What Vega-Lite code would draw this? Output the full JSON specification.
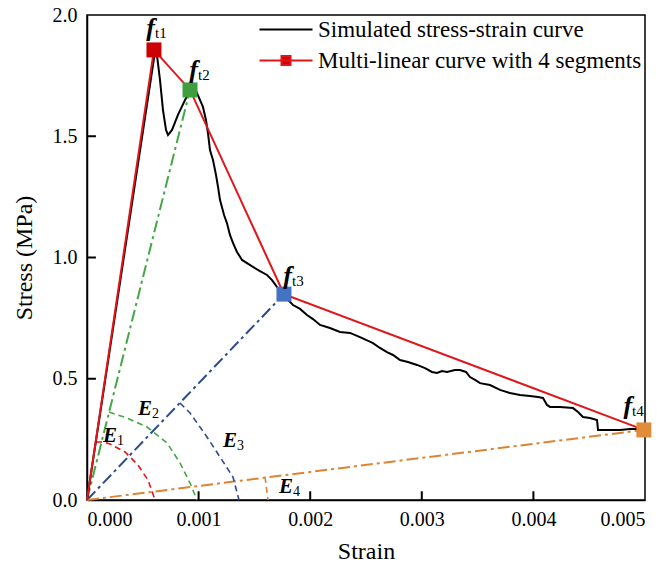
{
  "$schema": "https://vega.github.io/schema/vega-lite/v6.json",
  "width": 558,
  "height": 485,
  "autosize": {"type": "none"},
  "padding": {"left": 87, "top": 15, "right": 21, "bottom": 73},
  "background": "white",
  "config": {
    "view": {"stroke": "black", "strokeWidth": 1.5},
    "font": "Liberation Serif",
    "axis": {
      "domainColor": "black", "domainWidth": 1.5,
      "labelFont": "Liberation Serif", "labelFontSize": 20, "labelColor": "black",
      "titleFont": "Liberation Serif", "titleFontSize": 24, "titleFontWeight": "normal", "titleColor": "black",
      "grid": false, "ticks": false
    }
  },
  "datasets": {
    "sim": [
      {"strain": 0, "stress": 0},
      {"strain": 0.000609, "stress": 1.847},
      {"strain": 0.000627, "stress": 1.835},
      {"strain": 0.000654, "stress": 1.732},
      {"strain": 0.000681, "stress": 1.608},
      {"strain": 0.000708, "stress": 1.526},
      {"strain": 0.000726, "stress": 1.505},
      {"strain": 0.000762, "stress": 1.526},
      {"strain": 0.000815, "stress": 1.588},
      {"strain": 0.000878, "stress": 1.649},
      {"strain": 0.000923, "stress": 1.691},
      {"strain": 0.000968, "stress": 1.699},
      {"strain": 0.000986, "stress": 1.678},
      {"strain": 0.001039, "stress": 1.621},
      {"strain": 0.001066, "stress": 1.567},
      {"strain": 0.001084, "stress": 1.513},
      {"strain": 0.001102, "stress": 1.443},
      {"strain": 0.001129, "stress": 1.402},
      {"strain": 0.001156, "stress": 1.340},
      {"strain": 0.001174, "stress": 1.291},
      {"strain": 0.001192, "stress": 1.237},
      {"strain": 0.001228, "stress": 1.175},
      {"strain": 0.001254, "stress": 1.142},
      {"strain": 0.001281, "stress": 1.093},
      {"strain": 0.001308, "stress": 1.060},
      {"strain": 0.001344, "stress": 1.023},
      {"strain": 0.001389, "stress": 0.990},
      {"strain": 0.001434, "stress": 0.977},
      {"strain": 0.001487, "stress": 0.961},
      {"strain": 0.001550, "stress": 0.944},
      {"strain": 0.001613, "stress": 0.928},
      {"strain": 0.001658, "stress": 0.907},
      {"strain": 0.001703, "stress": 0.878},
      {"strain": 0.001738, "stress": 0.862},
      {"strain": 0.001765, "stress": 0.849},
      {"strain": 0.001801, "stress": 0.825},
      {"strain": 0.001846, "stress": 0.804},
      {"strain": 0.001909, "stress": 0.788},
      {"strain": 0.001971, "stress": 0.763},
      {"strain": 0.002025, "stress": 0.746},
      {"strain": 0.002088, "stress": 0.722},
      {"strain": 0.002177, "stress": 0.709},
      {"strain": 0.002267, "stress": 0.693},
      {"strain": 0.002357, "stress": 0.689},
      {"strain": 0.002446, "stress": 0.672},
      {"strain": 0.002500, "stress": 0.660},
      {"strain": 0.002563, "stress": 0.647},
      {"strain": 0.002625, "stress": 0.627},
      {"strain": 0.002688, "stress": 0.610},
      {"strain": 0.002742, "stress": 0.598},
      {"strain": 0.002805, "stress": 0.577},
      {"strain": 0.002876, "stress": 0.569},
      {"strain": 0.002957, "stress": 0.557},
      {"strain": 0.003029, "stress": 0.544},
      {"strain": 0.003091, "stress": 0.528},
      {"strain": 0.003136, "stress": 0.524},
      {"strain": 0.003181, "stress": 0.532},
      {"strain": 0.003226, "stress": 0.528},
      {"strain": 0.003297, "stress": 0.536},
      {"strain": 0.003342, "stress": 0.536},
      {"strain": 0.003396, "stress": 0.528},
      {"strain": 0.003432, "stress": 0.507},
      {"strain": 0.003477, "stress": 0.495},
      {"strain": 0.003522, "stress": 0.482},
      {"strain": 0.003611, "stress": 0.474},
      {"strain": 0.003701, "stress": 0.454},
      {"strain": 0.003790, "stress": 0.441},
      {"strain": 0.003880, "stress": 0.433},
      {"strain": 0.003970, "stress": 0.429},
      {"strain": 0.004041, "stress": 0.425},
      {"strain": 0.004086, "stress": 0.421},
      {"strain": 0.004122, "stress": 0.392},
      {"strain": 0.004149, "stress": 0.384},
      {"strain": 0.004238, "stress": 0.384},
      {"strain": 0.004355, "stress": 0.379},
      {"strain": 0.004400, "stress": 0.363},
      {"strain": 0.004444, "stress": 0.342},
      {"strain": 0.004507, "stress": 0.338},
      {"strain": 0.004570, "stress": 0.330},
      {"strain": 0.004579, "stress": 0.289},
      {"strain": 0.004686, "stress": 0.289},
      {"strain": 0.004776, "stress": 0.289},
      {"strain": 0.004866, "stress": 0.293},
      {"strain": 0.004928, "stress": 0.293},
      {"strain": 0.004982, "stress": 0.289}
    ],
    "multi": [
      {"strain": 0, "stress": 0},
      {"strain": 0.0006, "stress": 1.856},
      {"strain": 0.000923, "stress": 1.691},
      {"strain": 0.001765, "stress": 0.849},
      {"strain": 0.00499, "stress": 0.289}
    ],
    "markers": [
      {"k": "1", "strain": 0.0006, "stress": 1.856},
      {"k": "2", "strain": 0.000923, "stress": 1.691},
      {"k": "3", "strain": 0.001765, "stress": 0.849},
      {"k": "4", "strain": 0.00499, "stress": 0.289}
    ],
    "guides": [
      {"k": "2", "strain": 0, "stress": 0},
      {"k": "2", "strain": 0.000923, "stress": 1.691},
      {"k": "3", "strain": 0, "stress": 0},
      {"k": "3", "strain": 0.001765, "stress": 0.849},
      {"k": "4", "strain": 0, "stress": 0},
      {"k": "4", "strain": 0.00499, "stress": 0.289}
    ],
    "arcs": [
      {"k": "1", "strain": 0.0000806, "stress": 0.239},
      {"k": "1", "strain": 0.000143, "stress": 0.239},
      {"k": "1", "strain": 0.000206, "stress": 0.231},
      {"k": "1", "strain": 0.000341, "stress": 0.198},
      {"k": "1", "strain": 0.000457, "stress": 0.144},
      {"k": "1", "strain": 0.000547, "stress": 0.082},
      {"k": "1", "strain": 0.000591, "stress": 0.025},
      {"k": "1", "strain": 0.000609, "stress": 0},
      {"k": "2", "strain": 0.000197, "stress": 0.363},
      {"k": "2", "strain": 0.000358, "stress": 0.338},
      {"k": "2", "strain": 0.000538, "stress": 0.301},
      {"k": "2", "strain": 0.000717, "stress": 0.235},
      {"k": "2", "strain": 0.000833, "stress": 0.153},
      {"k": "2", "strain": 0.000923, "stress": 0.070},
      {"k": "2", "strain": 0.000986, "stress": 0},
      {"k": "3", "strain": 0.000833, "stress": 0.400},
      {"k": "3", "strain": 0.000923, "stress": 0.359},
      {"k": "3", "strain": 0.001075, "stress": 0.260},
      {"k": "3", "strain": 0.001192, "stress": 0.177},
      {"k": "3", "strain": 0.001308, "stress": 0.095},
      {"k": "3", "strain": 0.001362, "stress": 0},
      {"k": "4", "strain": 0.001595, "stress": 0.095},
      {"k": "4", "strain": 0.001622, "stress": 0}
    ],
    "flabels": [
      {"sub": "t1", "strain": 0.000609, "stress": 1.913},
      {"sub": "t2", "strain": 0.000995, "stress": 1.740},
      {"sub": "t3", "strain": 0.001837, "stress": 0.891},
      {"sub": "t4", "strain": 0.004884, "stress": 0.355}
    ],
    "elabels": [
      {"sub": "1", "strain": 0.000269, "stress": 0.239},
      {"sub": "2", "strain": 0.000582, "stress": 0.351},
      {"sub": "3", "strain": 0.001344, "stress": 0.219},
      {"sub": "4", "strain": 0.001846, "stress": 0.029}
    ],
    "xticks": [
      {"strain": 0.001, "lo": 0, "hi": 0.036},
      {"strain": 0.002, "lo": 0, "hi": 0.036},
      {"strain": 0.003, "lo": 0, "hi": 0.036},
      {"strain": 0.004, "lo": 0, "hi": 0.036}
    ],
    "yticks": [
      {"stress": 0.5, "lo": 0, "hi": 0.00008},
      {"stress": 1.0, "lo": 0, "hi": 0.00008},
      {"stress": 1.5, "lo": 0, "hi": 0.00008}
    ]
  },
  "layer": [
    {
      "data": {"name": "guides"},
      "mark": {"type": "line", "strokeWidth": 2, "strokeDash": [12, 4, 3, 4]},
      "encoding": {
        "x": {"field": "strain", "type": "quantitative",
              "scale": {"domain": [0, 0.005], "nice": false, "zero": false},
              "axis": {"values": [0, 0.001, 0.002, 0.003, 0.004, 0.005], "format": ".3f", "labelPadding": 9,
                       "title": "Strain", "titlePadding": 10}},
        "y": {"field": "stress", "type": "quantitative",
              "scale": {"domain": [0, 2], "nice": false, "zero": false},
              "axis": {"values": [0, 0.5, 1, 1.5, 2], "format": ".1f", "labelPadding": 10,
                       "title": "Stress (MPa)", "titlePadding": 16}},
        "stroke": {"field": "k", "type": "nominal",
                   "scale": {"domain": ["1", "2", "3", "4"], "range": ["#e0161b", "#43a843", "#2b4a8f", "#dd8434"]},
                   "legend": null}
      }
    },
    {
      "data": {"name": "arcs"},
      "mark": {"type": "line", "strokeWidth": 1.6, "strokeDash": [6, 4]},
      "encoding": {
        "x": {"field": "strain", "type": "quantitative"},
        "y": {"field": "stress", "type": "quantitative"},
        "stroke": {"field": "k", "type": "nominal", "legend": null}
      }
    },
    {
      "data": {"name": "xticks"},
      "mark": {"type": "rule", "strokeWidth": 2, "color": "black"},
      "encoding": {
        "x": {"field": "strain", "type": "quantitative"},
        "y": {"field": "lo", "type": "quantitative"},
        "y2": {"field": "hi"}
      }
    },
    {
      "data": {"name": "yticks"},
      "mark": {"type": "rule", "strokeWidth": 2, "color": "black"},
      "encoding": {
        "y": {"field": "stress", "type": "quantitative"},
        "x": {"field": "lo", "type": "quantitative"},
        "x2": {"field": "hi"}
      }
    },
    {
      "data": {"name": "sim"},
      "mark": {"type": "line", "strokeWidth": 2},
      "encoding": {
        "x": {"field": "strain", "type": "quantitative"},
        "y": {"field": "stress", "type": "quantitative"},
        "color": {"datum": "Simulated stress-strain curve",
                  "scale": {"domain": ["Simulated stress-strain curve", "Multi-linear curve with 4 segments"], "range": ["#000000", "#e0161b"]},
                  "legend": {
                    "title": null, "orient": "top-right", "offset": 3, "padding": 0,
                    "labelFont": "Liberation Serif", "labelFontSize": 23, "labelColor": "black", "labelLimit": 0,
                    "symbolSize": 400, "symbolStrokeWidth": 2, "labelOffset": 4, "rowPadding": 7,
                    "encode": {"symbols": {"update": {
                      "shape": {"signal": "datum.value === 'Simulated stress-strain curve' ? 'M-4.3,0H1' : 'M-4.3,0H1M-2.1,-0.45H-1.2V0.45H-2.1Z'"},
                      "fill": {"signal": "datum.value === 'Simulated stress-strain curve' ? 'transparent' : '#d00000'"}
                    }}}
                  }}
      }
    },
    {
      "data": {"name": "multi"},
      "mark": {"type": "line", "strokeWidth": 2},
      "encoding": {
        "x": {"field": "strain", "type": "quantitative"},
        "y": {"field": "stress", "type": "quantitative"},
        "color": {"datum": "Multi-linear curve with 4 segments"}
      }
    },
    {
      "data": {"name": "markers"},
      "mark": {"type": "point", "shape": "square", "filled": true, "size": 225, "opacity": 1},
      "encoding": {
        "x": {"field": "strain", "type": "quantitative"},
        "y": {"field": "stress", "type": "quantitative"},
        "fill": {"field": "k", "type": "nominal",
                 "scale": {"domain": ["1", "2", "3", "4"], "range": ["#cc0000", "#3f9f3f", "#4472c4", "#e08c3a"]},
                 "legend": null}
      }
    },
    {
      "data": {"name": "flabels"},
      "mark": {"type": "text", "text": "f", "font": "Liberation Serif", "fontSize": 26, "fontWeight": "bold", "fontStyle": "italic", "align": "right", "baseline": "alphabetic", "color": "black"},
      "encoding": {
        "x": {"field": "strain", "type": "quantitative"},
        "y": {"field": "stress", "type": "quantitative"}
      }
    },
    {
      "data": {"name": "flabels"},
      "mark": {"type": "text", "font": "Liberation Serif", "fontSize": 15, "align": "left", "baseline": "alphabetic", "dy": 2, "color": "black"},
      "encoding": {
        "x": {"field": "strain", "type": "quantitative"},
        "y": {"field": "stress", "type": "quantitative"},
        "text": {"field": "sub"}
      }
    },
    {
      "data": {"name": "elabels"},
      "mark": {"type": "text", "text": "E", "font": "Liberation Serif", "fontSize": 21, "fontWeight": "bold", "fontStyle": "italic", "align": "right", "baseline": "alphabetic", "color": "black"},
      "encoding": {
        "x": {"field": "strain", "type": "quantitative"},
        "y": {"field": "stress", "type": "quantitative"}
      }
    },
    {
      "data": {"name": "elabels"},
      "mark": {"type": "text", "font": "Liberation Serif", "fontSize": 14, "align": "left", "baseline": "alphabetic", "dy": 3, "color": "black"},
      "encoding": {
        "x": {"field": "strain", "type": "quantitative"},
        "y": {"field": "stress", "type": "quantitative"},
        "text": {"field": "sub"}
      }
    }
  ]
}
